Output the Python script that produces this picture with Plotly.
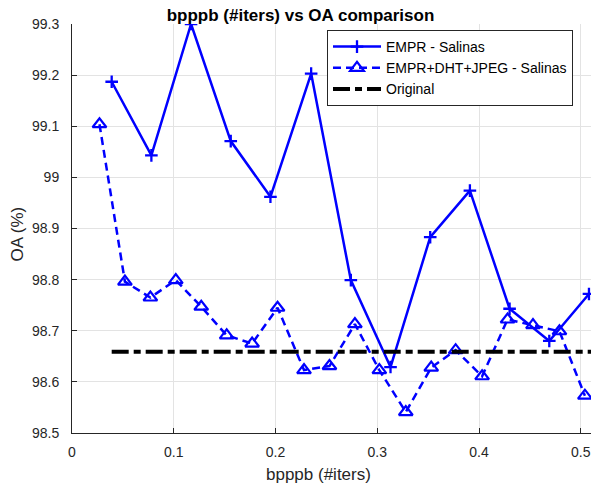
import plotly.graph_objects as go

# Data
empr_x = [0.039, 0.078, 0.117, 0.156, 0.195, 0.235, 0.274, 0.313, 0.352, 0.391, 0.430, 0.469, 0.508]
empr_y = [99.187, 99.043, 99.300, 99.071, 98.962, 99.203, 98.799, 98.629, 98.883, 98.974, 98.743, 98.680, 98.772]

jpeg_x = [0.027, 0.052, 0.077, 0.102, 0.127, 0.152, 0.177, 0.202, 0.228, 0.253, 0.278, 0.302, 0.328,
          0.353, 0.377, 0.403, 0.428, 0.453, 0.479, 0.504]
jpeg_y = [99.104, 98.796, 98.765, 98.799, 98.747, 98.691, 98.675, 98.745, 98.623, 98.631, 98.713, 98.623,
          98.541, 98.628, 98.662, 98.611, 98.722, 98.711, 98.699, 98.573]

orig_x = [0.039, 0.51]
orig_y = [98.659, 98.659]

x_ticks = [0, 0.1, 0.2, 0.3, 0.4, 0.5]
x_ticktext = ["0", "0.1", "0.2", "0.3", "0.4", "0.5"]
y_ticks = [98.5, 98.6, 98.7, 98.8, 98.9, 99.0, 99.1, 99.2, 99.3]
y_ticktext = ["98.5", "98.6", "98.7", "98.8", "98.9", "99", "99.1", "99.2", "99.3"]

BLUE = "#0000ff"
FONT = "Liberation Sans, Arial, sans-serif"

fig = go.Figure()
fig.add_trace(go.Scatter(
    x=empr_x, y=empr_y, mode="lines+markers", name="EMPR - Salinas",
    line=dict(color=BLUE, width=2.5),
    marker=dict(symbol="cross-thin-open", size=9, color=BLUE, line=dict(color=BLUE, width=2.3)),
))
fig.add_trace(go.Scatter(
    x=jpeg_x, y=jpeg_y, mode="lines+markers", name="EMPR+DHT+JPEG - Salinas",
    line=dict(color=BLUE, width=2.5, dash="8px,5px"),
    marker=dict(symbol="triangle-up-open", size=12, color=BLUE, line=dict(color=BLUE, width=2.2)),
))
fig.add_trace(go.Scatter(
    x=orig_x, y=orig_y, mode="lines", name="Original",
    line=dict(color="black", width=4, dash="17px,5px,7px,5px"),
))

axis_common = dict(
    showgrid=True, gridcolor="#e3e3e3", gridwidth=1,
    showline=True, linecolor="#262626", linewidth=1,
    ticks="inside", ticklen=5, tickcolor="#262626",
    tickfont=dict(family=FONT, size=14, color="#262626"),
    zeroline=False, mirror=False, automargin=False,
)

fig.update_layout(
    width=592, height=489,
    margin=dict(l=72, r=1, t=24, b=56),
    paper_bgcolor="white", plot_bgcolor="white",
    font=dict(family=FONT, size=14, color="#262626"),
    title=dict(text="<b>bpppb (#iters) vs OA comparison</b>", x=300.5 / 592, xref="container",
               xanchor="center", y=1 - 21 / 489, yref="container", yanchor="bottom",
               font=dict(size=17, color="black", family=FONT), automargin=False),
    xaxis=dict(range=[0, 0.51], tickvals=x_ticks, ticktext=x_ticktext, ticklabelstandoff=6,
               **axis_common),
    yaxis=dict(range=[98.5, 99.3], tickvals=y_ticks, ticktext=y_ticktext, ticklabelstandoff=9,
               **axis_common),
    legend=dict(x=(327 - 72) / 519, y=(433 - 30) / 409, xanchor="left", yanchor="top",
                bgcolor="white", bordercolor="#262626", borderwidth=1,
                font=dict(size=14, color="black", family=FONT), itemwidth=48,
                tracegroupgap=0),
    showlegend=True,
    annotations=[
        dict(text="bpppb (#iters)", xref="paper", yref="paper", x=(318 - 72) / 519,
             y=(433 - 474) / 409, xanchor="center", yanchor="middle", showarrow=False,
             font=dict(size=17, color="#262626", family=FONT)),
        dict(text="OA (%)", xref="paper", yref="paper", x=(16.5 - 72) / 519,
             y=(433 - 234) / 409, xanchor="center", yanchor="middle", showarrow=False,
             textangle=-90, font=dict(size=17, color="#262626", family=FONT)),
    ],
)

fig.write_html("out.html", config={"displayModeBar": False},
               post_script="document.body.style.margin='0';document.body.style.overflow='hidden';")
